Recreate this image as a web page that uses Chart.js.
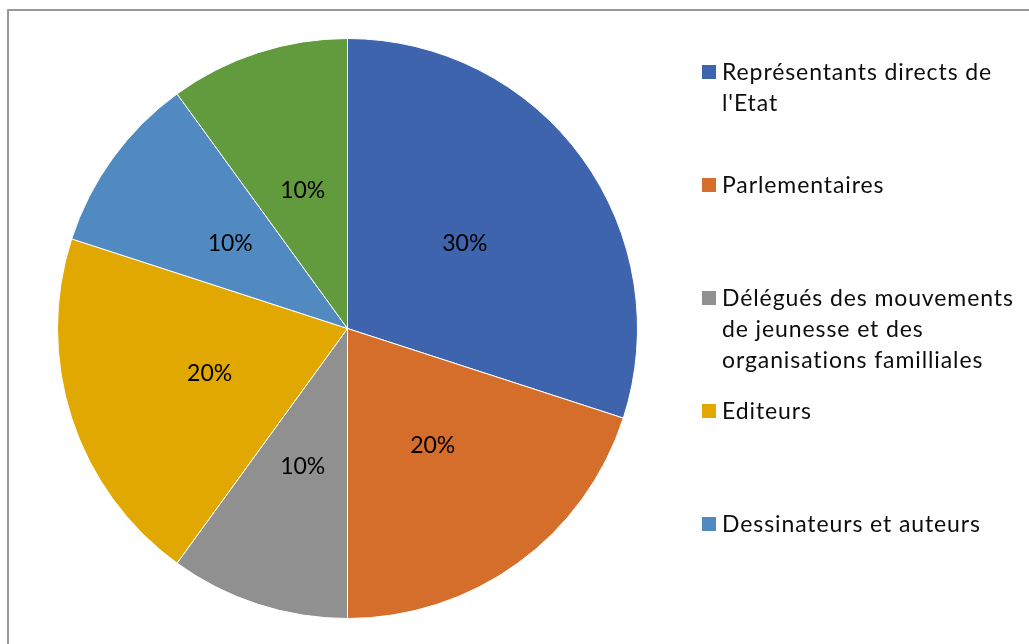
<!DOCTYPE html>
<html>
<head>
<meta charset="utf-8">
<script src="https://cdn.jsdelivr.net/npm/chart.js@4/dist/chart.umd.min.js"></script>
<style>
  html, body { margin: 0; padding: 0; background: #ffffff; }
  #wrap { position: relative; width: 1029px; height: 644px; }
</style>
</head>
<body>
<div id="wrap"><canvas id="c" width="1029" height="644"></canvas></div>
<script>
// ---- data ----
const categories = [
  ['Représentants directs de', "l'Etat"],
  ['Parlementaires'],
  ['Délégués des mouvements', 'de jeunesse et des', 'organisations familliales'],
  ['Editeurs'],
  ['Dessinateurs et auteurs'],
  ['Autres']
];
const values = [30, 20, 10, 20, 10, 10];
const colors = ['#3D64AD', '#D46E2A', '#909090', '#E0A800', '#508AC0', '#629B3D'];
const legendVisibleCount = 5; // the last legend entry is cut off in the original

const FONT = 'Lato, "Liberation Sans", sans-serif';

const framePlugin = {
  id: 'frame',
  beforeDraw(chart) {
    const ctx = chart.ctx;
    ctx.save();
    ctx.fillStyle = '#ffffff';
    ctx.fillRect(0, 0, chart.width, chart.height);
    ctx.strokeStyle = '#9a9a9a';
    ctx.lineWidth = 2;
    ctx.beginPath();
    ctx.moveTo(8, chart.height + 5);
    ctx.lineTo(8, 10);
    ctx.lineTo(chart.width + 5, 10);
    ctx.stroke();
    ctx.restore();
  }
};

const labelPlugin = {
  id: 'sliceLabels',
  afterDatasetsDraw(chart) {
    const ctx = chart.ctx;
    const meta = chart.getDatasetMeta(0);
    const data = chart.data.datasets[0].data;
    const total = data.reduce((a, b) => a + b, 0);
    ctx.save();
    ctx.font = '23px ' + FONT;
    ctx.fillStyle = '#000000';
    ctx.textAlign = 'center';
    ctx.textBaseline = 'middle';
    meta.data.forEach((arc, i) => {
      const p = arc.tooltipPosition();
      ctx.fillText(Math.round(data[i] / total * 100) + '%', p.x, p.y);
    });
    ctx.restore();
  }
};

const legendPlugin = {
  id: 'customLegend',
  afterDraw(chart) {
    const ctx = chart.ctx;
    const x0 = 702, y0 = 72, itemStep = 113, lineH = 31, box = 14;
    ctx.save();
    ctx.font = '23px ' + FONT;
    if ('letterSpacing' in ctx) ctx.letterSpacing = '0.9px';
    ctx.textBaseline = 'middle';
    ctx.textAlign = 'left';
    for (let i = 0; i < legendVisibleCount; i++) {
      const y = y0 + i * itemStep;
      ctx.fillStyle = colors[i];
      ctx.fillRect(x0, y - box / 2, box, box);
      ctx.fillStyle = '#0d0d0d';
      chart.data.labels[i].forEach((line, k) => {
        ctx.fillText(line, x0 + 20, y + k * lineH + 1);
      });
    }
    ctx.restore();
  }
};

new Chart(document.getElementById('c'), {
  type: 'pie',
  data: {
    labels: categories,
    datasets: [{
      data: values,
      backgroundColor: colors,
      borderColor: '#ffffff',
      borderWidth: 1
    }]
  },
  options: {
    responsive: false,
    animation: false,
    layout: { padding: { left: 57, right: 391, top: 38, bottom: 25 } },
    plugins: {
      legend: { display: false },
      tooltip: { enabled: false }
    }
  },
  plugins: [framePlugin, labelPlugin, legendPlugin]
});
</script>
</body>
</html>
